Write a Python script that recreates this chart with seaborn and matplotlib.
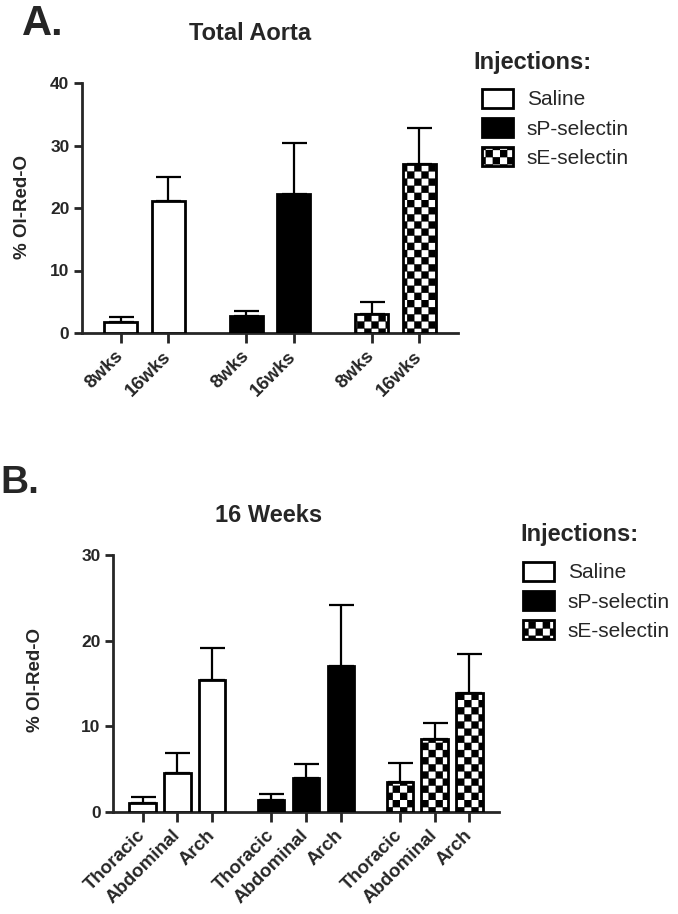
import numpy as np
import pandas as pd
import matplotlib
matplotlib.use("Agg")
import matplotlib.pyplot as plt
import matplotlib.hatch as mhatch
from matplotlib.path import Path
from matplotlib.patches import Patch
import seaborn as sns

# ---- data ----
injections = ["Saline", "sP-selectin", "sE-selectin"]

timepoints = ["8wks", "16wks"]
a_saline = [1.8, 21.1]
a_saline_err = [0.8, 3.8]
a_sp = [2.8, 22.3]
a_sp_err = [0.8, 8.1]
a_se = [3.1, 27.0]
a_se_err = [1.9, 5.8]

regions = ["Thoracic", "Abdominal", "Arch"]
b_saline = [1.1, 4.6, 15.4]
b_saline_err = [0.6, 2.3, 3.7]
b_sp = [1.35, 4.0, 17.1]
b_sp_err = [0.75, 1.6, 7.1]
b_se = [3.45, 8.5, 13.9]
b_se_err = [2.25, 1.9, 4.5]

FIG_W, FIG_H, DPI = 678, 914, 100
CHECKER = "*******"  # 14 squares per inch


# checkerboard hatch (replaces the star hatch)
class CheckerHatch(mhatch.HatchPatternBase):
    def __init__(self, hatch, density):
        self.n = hatch.count("*") * 2
        self.num_vertices = 5 * (self.n * self.n // 2)

    def set_vertices_and_codes(self, vertices, codes):
        s = 1.0 / self.n
        sq = np.array([[0, 0], [1, 0], [1, 1], [0, 1], [0, 0]], float) * s
        parts = [sq + [i * s, j * s] for i in range(self.n)
                 for j in range(self.n) if (i + j) % 2 == 0]
        vertices[:] = np.concatenate(parts)
        codes[:] = np.tile([Path.MOVETO, Path.LINETO, Path.LINETO,
                            Path.LINETO, Path.CLOSEPOLY], len(parts))


mhatch._hatch_types = [CheckerHatch if t is mhatch.Stars else t
                       for t in mhatch._hatch_types]

sns.set_style("ticks")
plt.rcParams["font.family"] = ["Liberation Sans", "DejaVu Sans"]
plt.rcParams["hatch.linewidth"] = 0.2


def px(x, y):
    return x / FIG_W, 1 - y / FIG_H


def long_df(levels, series, errs):
    rows = []
    for inj, vals, ers in zip(injections, series, errs):
        for lev, v, e in zip(levels, vals, ers):
            rows.append({"Injection": inj, "Level": lev, "value": v, "err": e})
    return pd.DataFrame(rows)


def panel(ax, df, levels, width, gap, ymax):
    sns.barplot(data=df, x="Injection", y="value", hue="Level",
                order=injections, hue_order=levels, width=width, gap=gap,
                errorbar=None, legend=False, palette=["white"] * len(levels),
                edgecolor="black", linewidth=2, ax=ax, zorder=3)
    centers, labels = [], []
    for lev, cont in zip(levels, ax.containers):
        sub = df[df["Level"] == lev].set_index("Injection").loc[injections]
        xs = []
        for inj, bar in zip(injections, cont):
            if inj == "sP-selectin":
                bar.set_facecolor("black")
            elif inj == "sE-selectin":
                bar.set_hatch(CHECKER)
            xs.append(bar.get_x() + bar.get_width() / 2)
        ax.errorbar(xs, sub["value"], yerr=[np.zeros(len(xs)), sub["err"]],
                    fmt="none", ecolor="black", elinewidth=1.6, capsize=9,
                    capthick=1.6, zorder=2)
        centers += xs
        labels += [lev] * len(xs)
    order = np.argsort(centers)
    ax.set_xticks(np.array(centers)[order], np.array(labels)[order],
                  rotation=45, ha="right", va="center",
                  rotation_mode="anchor", fontsize=13.5, fontweight="bold")
    ax.set_xlim(-0.5, 2.5)
    ax.set_ylim(0, ymax)
    ax.set_yticks(np.arange(0, ymax + 1, 10))
    for t in ax.get_yticklabels():
        t.set_fontweight("bold")
        t.set_fontsize(12.5)
    ax.set_xlabel("")
    ax.set_ylabel("")
    ax.tick_params(axis="x", length=7, width=2, pad=8)
    ax.tick_params(axis="y", length=6, width=2, pad=3)
    sns.despine(ax=ax)
    for s in ["left", "bottom"]:
        ax.spines[s].set_linewidth(2)


def legend(fig, x, y):
    handles = [Patch(facecolor="white", edgecolor="black", lw=2),
               Patch(facecolor="black", edgecolor="black", lw=2),
               Patch(facecolor="white", edgecolor="black", lw=2, hatch=CHECKER)]
    fig.legend(handles, injections, loc="upper left", bbox_to_anchor=px(x, y),
               frameon=False, borderpad=0, borderaxespad=0, fontsize=15,
               handlelength=1.5, handleheight=1.0, labelspacing=0.42,
               handletextpad=0.65)


fig = plt.figure(figsize=(FIG_W / DPI, FIG_H / DPI), dpi=DPI)

# panel A
axA = fig.add_axes([82 / FIG_W, 1 - 333 / FIG_H, 376 / FIG_W, 250 / FIG_H])
dfA = long_df(timepoints, [a_saline, a_sp, a_se], [a_saline_err, a_sp_err, a_se_err])
panel(axA, dfA, timepoints, 0.76, 0.31, 40)
fig.text(*px(22, 24), "A.", fontsize=30, fontweight="bold", ha="left", va="center")
fig.text(*px(250, 33), "Total Aorta", fontsize=17, fontweight="bold", ha="center", va="center")
fig.text(*px(23, 207), "% Ol-Red-O", fontsize=13.5, fontweight="bold",
         rotation=90, ha="center", va="center")
fig.text(*px(473, 63), "Injections:", fontsize=17, fontweight="bold", ha="left", va="center")
legend(fig, 482, 89)

# panel B
axB = fig.add_axes([113 / FIG_W, 1 - 812 / FIG_H, 386 / FIG_W, 257 / FIG_H])
dfB = long_df(regions, [b_saline, b_sp, b_se], [b_saline_err, b_sp_err, b_se_err])
panel(axB, dfB, regions, 0.81, 0.24, 30)
fig.text(*px(0, 483), "B.", fontsize=28, fontweight="bold", ha="left", va="center")
fig.text(*px(269, 515), "16 Weeks", fontsize=17, fontweight="bold", ha="center", va="center")
fig.text(*px(35, 680), "% Ol-Red-O", fontsize=13.5, fontweight="bold",
         rotation=90, ha="center", va="center")
fig.text(*px(520, 534), "Injections:", fontsize=17, fontweight="bold", ha="left", va="center")
legend(fig, 523, 562)

fig.savefig("out.png", dpi=DPI)
